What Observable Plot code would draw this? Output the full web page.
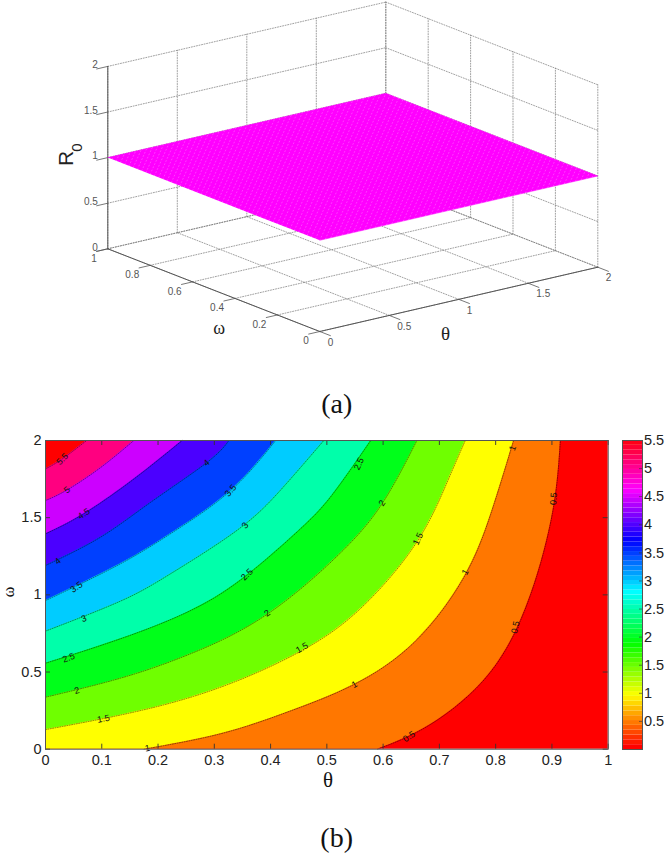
<!DOCTYPE html>
<html><head><meta charset="utf-8">
<script src="https://cdn.jsdelivr.net/npm/d3@7"></script>
<script src="https://cdn.jsdelivr.net/npm/@observablehq/plot@0.6"></script>
<style>
html,body{margin:0;padding:0;background:#fff}
#page{position:relative;width:666px;height:855px;overflow:hidden}
#page svg{position:absolute;left:0;background:transparent}
.cap{position:absolute;font-family:"Liberation Serif",serif;font-size:28px;color:#111;line-height:1;transform:translate(-50%,-50%)}
</style></head><body><div id="page"></div>
<script>
// ---------- panel (a): data ----------
const thetaTicks3d = [0, 0.5, 1, 1.5, 2];
const omegaTicks3d = [0, 0.2, 0.4, 0.6, 0.8, 1];
const rTicks3d = [0, 0.5, 1, 1.5, 2];
const surfaceR = 1;
// ---------- panel (b): data ----------
const thetaTicks = [0, 0.1, 0.2, 0.3, 0.4, 0.5, 0.6, 0.7, 0.8, 0.9, 1];
const omegaTicks = [0, 0.5, 1, 1.5, 2];
const barTicks = [0.5, 1, 1.5, 2, 2.5, 3, 3.5, 4, 4.5, 5, 5.5];
const bandColors = ["#ff7700","#ffff00","#6fff00","#00ff1a","#00ffaa","#00ccff","#0040ff","#4b00ff","#cc00ff","#ff0080","#ff0000"];
const baseColor = "#ff0000";
const c05 = [[.59,0],[.684,.16],[.791,.5],[.862,1],[.902,1.55],[.915,2]];
const c10 = [[.175,0],[.311,.0997],[.4295,.24],[.548,.419],[.6575,.7],[.743,1.11],[.791,1.52],[.832,2]];
const c15 = [[0,.127],[.252,.33],[.45,.628],[.566,.933],[.66,1.343],[.714,1.732],[.746,2]];
const c20 = [[0,.337],[.133,.46],[.252,.61],[.388,.86],[.518,1.25],[.598,1.59],[.66,2]];
const c25 = [[0,.557],[.133,.715],[.252,.888],[.3495,1.104],[.45,1.417],[.51,1.65],[.578,2]];
const c30 = [[0,.765],[.133,.959],[.222,1.136],[.34,1.417],[.4176,1.678],[.4946,2]];
const c35 = [[0,.963],[.133,1.201],[.231,1.417],[.329,1.676],[.409,2]];
const c40 = [[0,1.19],[.098,1.374],[.187,1.6],[.286,1.855],[.326,2]];
const c45 = [[0,1.395],[.068,1.525],[.157,1.75],[.243,2]];
const c50 = [[0,1.611],[.0385,1.68],[.098,1.825],[.157,2]];
const c55 = [[0,1.816],[.03,1.881],[.073,2]];
const contours = [c05,c10,c15,c20,c25,c30,c35,c40,c45,c50,c55];
// label, theta, omega, rotation
const contourLabels = [
 ["5.5",.03,1.88,-45],["5",.0385,1.68,-40],["4.5",.068,1.525,-35],["4",.022,1.218,-40],["4",.286,1.855,-40],
 ["3.5",.055,1.05,-35],["3.5",.329,1.676,-50],["3",.068,.845,-20],["3",.355,1.45,-50],
 ["2.5",.041,.592,-20],["2.5",.358,1.132,-45],["2.5",.557,1.849,-65],
 ["2",.056,.38,-15],["2",.394,.881,-35],["2",.598,1.594,-55],
 ["1.5",.103,.197,-10],["1.5",.456,.657,-30],["1.5",.662,1.363,-65],
 ["1",.181,.006,-10],["1",.549,.419,-30],["1",.746,1.147,-60],["1",.83,1.95,-70],
 ["0.5",.646,.082,-35],["0.5",.835,.79,-78],["0.5",.903,1.622,-85]
];

// ---------- helpers ----------
const proj = (t,w,r) => ({x: 319.3 + t*139 - w*212, y: 331 - t*32.15 - w*82.7 - r*91.2});
const seg = (id,a,b) => [{id,...proj(...a)},{id,...proj(...b)}];
const page = document.getElementById("page");

// ---------- panel (a) ----------
const grid3d = [];
thetaTicks3d.forEach(t => { grid3d.push(...seg("ft"+t,[t,0,0],[t,1,0])); grid3d.push(...seg("wt"+t,[t,1,0],[t,1,2])); });
omegaTicks3d.forEach(w => { grid3d.push(...seg("fw"+w,[0,w,0],[2,w,0])); grid3d.push(...seg("ww"+w,[2,w,0],[2,w,2])); });
rTicks3d.forEach(r => { grid3d.push(...seg("la"+r,[0,1,r],[2,1,r])); grid3d.push(...seg("lb"+r,[2,1,r],[2,0,r])); });
const axes3d = [...seg("R",[0,1,0],[0,1,2]), ...seg("W",[0,1,0],[0,0,0]), ...seg("T",[0,0,0],[2,0,0])];
const ticks3d = [];
rTicks3d.forEach(r => ticks3d.push(...seg("tr"+r,[0,1,r],[-.08,1,r])));
omegaTicks3d.forEach(w => ticks3d.push(...seg("tw"+w,[0,w,0],[-.08,w,0])));
thetaTicks3d.forEach(t => ticks3d.push(...seg("tt"+t,[t,0,0],[t,-.05,0])));
const surface = [[0,0],[2,0],[2,1],[0,1]].map(([t,w]) => proj(t,w,surfaceR));
// triangulated surface mesh: its diagonals show up as fine light streaks
const mesh = [];
d3.range(-50,50).forEach(k => {
  const c = k*.02, t0 = Math.max(0,-2*c), t1 = Math.min(2,2*(1-c));
  if (t1 > t0) mesh.push(...seg("m"+k,[t0,t0/2+c,surfaceR],[t1,t1/2+c,surfaceR]));
});
const top3d = Plot.plot({
  width:666,height:430,margin:0,
  x:{domain:[0,666],range:[0,666],axis:null},
  y:{domain:[0,430],range:[0,430],axis:null},
  style:{fontFamily:"Liberation Sans",background:"transparent"},
  marks:[
    Plot.line(grid3d,{x:"x",y:"y",z:"id",stroke:"#777",strokeWidth:.7,strokeDasharray:"1 1.6"}),
    Plot.line(axes3d,{x:"x",y:"y",z:"id",stroke:"#555",strokeWidth:1}),
    Plot.line(ticks3d,{x:"x",y:"y",z:"id",stroke:"#555",strokeWidth:.8}),
    Plot.line(surface,{x:"x",y:"y",fill:"#ff00ff",stroke:"#ff00ff",strokeWidth:.5}),
    Plot.line(mesh,{x:"x",y:"y",z:"id",stroke:"#fff",strokeOpacity:.3,strokeWidth:.8,strokeDasharray:"1 2.5"}),
    Plot.text(rTicks3d,{x:r=>proj(0,1,r).x,y:r=>proj(0,1,r).y,text:r=>String(r),dx:-10,dy:-1.5,textAnchor:"end",fontSize:10,fill:"#555"}),
    Plot.text(omegaTicks3d,{x:w=>proj(0,w,0).x,y:w=>proj(0,w,0).y,text:w=>String(w),dx:-11,dy:9.5,textAnchor:"end",fontSize:10,fill:"#555"}),
    Plot.text(thetaTicks3d,{x:t=>proj(t,0,0).x,y:t=>proj(t,0,0).y,text:t=>String(t),dx:8,dy:11,textAnchor:"start",fontSize:10,fill:"#555"}),
    Plot.text(["R"],{x:()=>65.5,y:()=>158,text:d=>d,rotate:-90,fontSize:21,fill:"#222"}),
    Plot.text(["0"],{x:()=>77,y:()=>147,text:d=>d,rotate:-90,fontSize:15,fill:"#222"}),
    Plot.text(["ω"],{x:()=>218.7,y:()=>328,text:d=>d,fontSize:18,fontFamily:"Liberation Serif",fill:"#222"}),
    Plot.text(["θ"],{x:()=>445,y:()=>333,text:d=>d,fontSize:19,fontFamily:"Liberation Serif",fill:"#222"})
  ]
});
top3d.style.top = "0px";
page.appendChild(top3d);

// ---------- panel (b) ----------
const toPts = c => c.map(([t,w]) => ({t,w}));
// contours that start on the bottom edge: the band also covers the edge to their left
const bandMarks = contours.map((c,i) => {
  const pts = toPts(c), fill = bandColors[i];
  if (c[0][1] !== 0) return Plot.areaY(pts,{x:"t",y1:"w",y2:()=>2,fill,curve:"natural"});
  return [
    Plot.areaY(pts,{x:"t",y1:"w",y2:()=>2,fill,curve:"natural"}),
    Plot.rect([c[0][0]],{x1:()=>0,x2:d=>d+.002,y1:()=>0,y2:()=>2,fill})
  ];
}).flat();
const lineMarks = contours.map(c => Plot.line(toPts(c),{x:"t",y:"w",stroke:"#000",strokeWidth:.6,strokeOpacity:.75,strokeDasharray:"1 1.4",curve:"natural"}));
const frameH = 855-430-10-106.3, frameW = 666-45-58.3;
const axisOpt = {stroke:"#444",fill:"#222",fontSize:14.5,label:null,tickFormat:d=>String(d)};
const tickOpt = {stroke:"#333",strokeWidth:.9};
const lower = Plot.plot({
  width:666,height:425,
  marginTop:10,marginBottom:106.3,marginLeft:45,marginRight:58.3,
  x:{domain:[0,1]},
  y:{domain:[0,2]},
  style:{fontFamily:"Liberation Sans",background:"transparent"},
  marks:[
    Plot.rect([0],{x1:()=>0,x2:()=>1,y1:()=>0,y2:()=>2,fill:baseColor,inset:0}),
    ...bandMarks,...lineMarks,
    Plot.text(contourLabels,{x:d=>d[1],y:d=>d[2],text:d=>d[0],rotate:d=>d[3],fontSize:9,fill:"#111"}),
    Plot.ruleX(thetaTicks,{...tickOpt,insetTop:frameH-5}),
    Plot.ruleX(thetaTicks,{...tickOpt,insetBottom:frameH-5}),
    Plot.ruleY(omegaTicks,{...tickOpt,insetRight:frameW-5}),
    Plot.ruleY(omegaTicks,{...tickOpt,insetLeft:frameW-5}),
    Plot.frame({stroke:"#555",strokeWidth:1}),
    Plot.axisX(thetaTicks,{...axisOpt,anchor:"bottom",tickSize:0,tickPadding:6}),
    Plot.axisY(omegaTicks,{...axisOpt,anchor:"left",tickSize:0,tickPadding:4})
  ]
});
lower.style.top = "430px";
page.appendChild(lower);

// ---------- colorbar ----------
const steps = d3.range(64).map(i => ({i,v0:i/64*5.5,v1:(i+1)/64*5.5,c:d3.hsl(i/64*360,1,.5).formatHex()}));
const bar = Plot.plot({
  width:666,height:425,
  marginTop:10,marginBottom:106,marginLeft:622,marginRight:24,
  x:{domain:[0,1],axis:null},
  y:{domain:[0,5.5]},
  style:{fontFamily:"Liberation Sans",background:"transparent"},
  marks:[
    Plot.rect(steps,{x1:()=>0,x2:()=>1,y1:"v0",y2:"v1",fill:"c"}),
    Plot.ruleY(barTicks,{stroke:"#333",strokeWidth:.6,insetLeft:17}),
    Plot.frame({stroke:"#555",strokeWidth:1}),
    Plot.axisY(barTicks,{...axisOpt,anchor:"right",tickSize:0,tickPadding:1.5})
  ]
});
bar.style.top = "430px";
page.appendChild(bar);

// ---------- captions ----------
const addText = (txt,x,y,css) => { const d=document.createElement("div"); d.className="cap"; d.textContent=txt; d.style.left=x+"px"; d.style.top=y+"px"; if(css) d.style.cssText+=css; page.appendChild(d); };
addText("(a)",336.7,404);
addText("(b)",336.7,838);
addText("θ",328,780,"font-size:21px;");
addText("ω",9,592,"font-size:16px;transform:translate(-50%,-50%) rotate(-90deg);");
</script></body></html>
